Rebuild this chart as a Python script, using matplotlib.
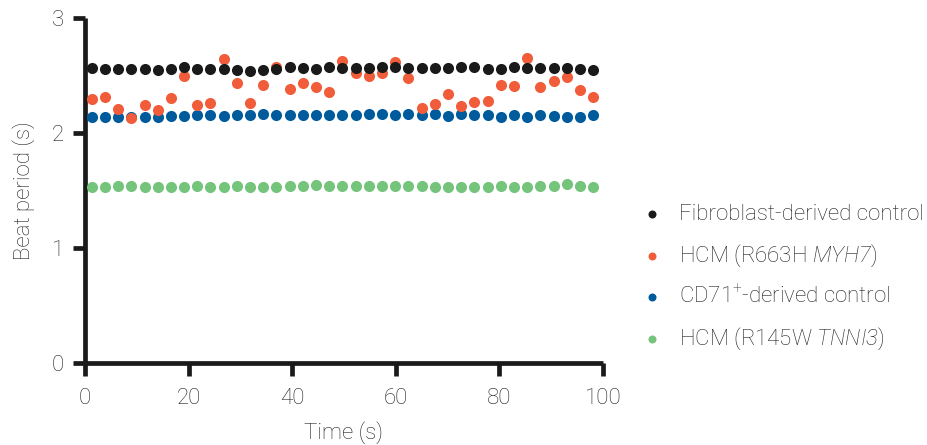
import matplotlib
matplotlib.use("Agg")
import matplotlib.pyplot as plt

time_s = [1.3, 3.85, 6.4, 8.94, 11.49, 14.04, 16.58, 19.13, 21.68, 24.22, 26.77, 29.32,
          31.86, 34.41, 36.96, 39.51, 42.05, 44.6, 47.15, 49.69, 52.24, 54.79, 57.33,
          59.88, 62.43, 64.98, 67.52, 70.07, 72.62, 75.16, 77.71, 80.26, 82.8, 85.35,
          87.9, 90.45, 92.99, 95.54, 98.09]

fibroblast = [2.562, 2.554, 2.557, 2.554, 2.554, 2.548, 2.559, 2.571, 2.559, 2.557, 2.554,
              2.548, 2.536, 2.548, 2.554, 2.571, 2.562, 2.559, 2.571, 2.565, 2.562, 2.562,
              2.571, 2.571, 2.562, 2.562, 2.562, 2.568, 2.574, 2.574, 2.554, 2.559, 2.574,
              2.562, 2.562, 2.562, 2.562, 2.559, 2.548]

hcm_myh7 = [2.296, 2.316, 2.206, 2.133, 2.241, 2.200, 2.302, 2.498, 2.241, 2.264, 2.643,
            2.432, 2.261, 2.417, 2.577, 2.383, 2.438, 2.397, 2.354, 2.629, 2.519, 2.498,
            2.519, 2.617, 2.475, 2.215, 2.249, 2.342, 2.238, 2.272, 2.278, 2.417, 2.412,
            2.649, 2.403, 2.452, 2.484, 2.374, 2.310]

cd71 = [2.142, 2.142, 2.136, 2.136, 2.136, 2.136, 2.151, 2.148, 2.157, 2.159, 2.151,
        2.154, 2.159, 2.165, 2.154, 2.154, 2.154, 2.154, 2.154, 2.157, 2.154, 2.162,
        2.162, 2.159, 2.165, 2.157, 2.162, 2.151, 2.165, 2.154, 2.154, 2.139, 2.154,
        2.136, 2.154, 2.148, 2.142, 2.142, 2.157]

hcm_tnni3 = [1.533, 1.533, 1.536, 1.539, 1.530, 1.533, 1.527, 1.527, 1.539, 1.527, 1.533,
             1.539, 1.533, 1.533, 1.533, 1.539, 1.542, 1.551, 1.539, 1.535, 1.539, 1.542,
             1.542, 1.539, 1.539, 1.539, 1.533, 1.533, 1.527, 1.527, 1.533, 1.536, 1.533,
             1.530, 1.542, 1.536, 1.559, 1.542, 1.533]

labels = ["Fibroblast-derived control", "HCM (R663H $\\mathsf{MYH7}$)",
          "CD71$^{+}$-derived control", "HCM (R145W $\\mathsf{TNNI3}$)"]
x_ticks = [0, 20, 40, 60, 80, 100]
y_ticks = [0, 1, 2, 3]

fam = "Roboto"
plt.rcParams["font.family"] = [fam, "DejaVu Sans"]
plt.rcParams["font.weight"] = "light"
plt.rcParams["axes.labelweight"] = "light"
plt.rcParams["mathtext.fontset"] = "custom"
plt.rcParams["mathtext.rm"] = fam + ":light"
plt.rcParams["mathtext.it"] = fam + ":italic:light"
plt.rcParams["mathtext.sf"] = fam + ":italic:light"
plt.rcParams["mathtext.default"] = "regular"

text_col = "#222222"
fs = 16
fig = plt.figure(figsize=(9.28, 4.45), dpi=100)
ax = fig.add_axes([85 / 928, 82 / 445, 518 / 928, 345 / 445])

s = 64
ax.scatter(time_s, cd71, s=s, color="#005b9d", linewidths=0, zorder=3, label=labels[2])
ax.scatter(time_s, hcm_tnni3, s=s, color="#74c47c", linewidths=0, zorder=3, label=labels[3])
ax.scatter(time_s, hcm_myh7, s=s, color="#f15d3b", linewidths=0, zorder=4, label=labels[1])
ax.scatter(time_s, fibroblast, s=s, color="#1a1a1a", linewidths=0, zorder=5, label=labels[0])

ax.set_xlim(0, 100)
ax.set_ylim(0, 3)
ax.set_xticks(x_ticks)
ax.set_yticks(y_ticks)
for sp in ["top", "right"]:
    ax.spines[sp].set_visible(False)
for sp in ["left", "bottom"]:
    ax.spines[sp].set_linewidth(3.4)
    ax.spines[sp].set_color("#1a1a1a")
    ax.spines[sp].set_capstyle("butt")
ax.tick_params(axis="both", length=9, width=3.4, color="#1a1a1a",
               labelsize=fs, labelcolor=text_col)
ax.tick_params(axis="x", pad=9)
ax.tick_params(axis="y", pad=6)
ax.set_xlabel("Time (s)", fontsize=fs, color=text_col, labelpad=9)
ax.set_ylabel("Beat period (s)", fontsize=fs, color=text_col, labelpad=12)

h, l = ax.get_legend_handles_labels()
order = [3, 2, 0, 1]
leg = fig.legend([h[i] for i in order], [l[i] for i in order],
                 loc="center left", bbox_to_anchor=(641 / 928, 167 / 445),
                 frameon=False, fontsize=fs, labelspacing=0.78,
                 handletextpad=0.72, markerscale=0.72, handlelength=1.0,
                 borderaxespad=0, borderpad=0)
for t in leg.get_texts():
    t.set_color(text_col)

fig.savefig("out.png", dpi=100)
